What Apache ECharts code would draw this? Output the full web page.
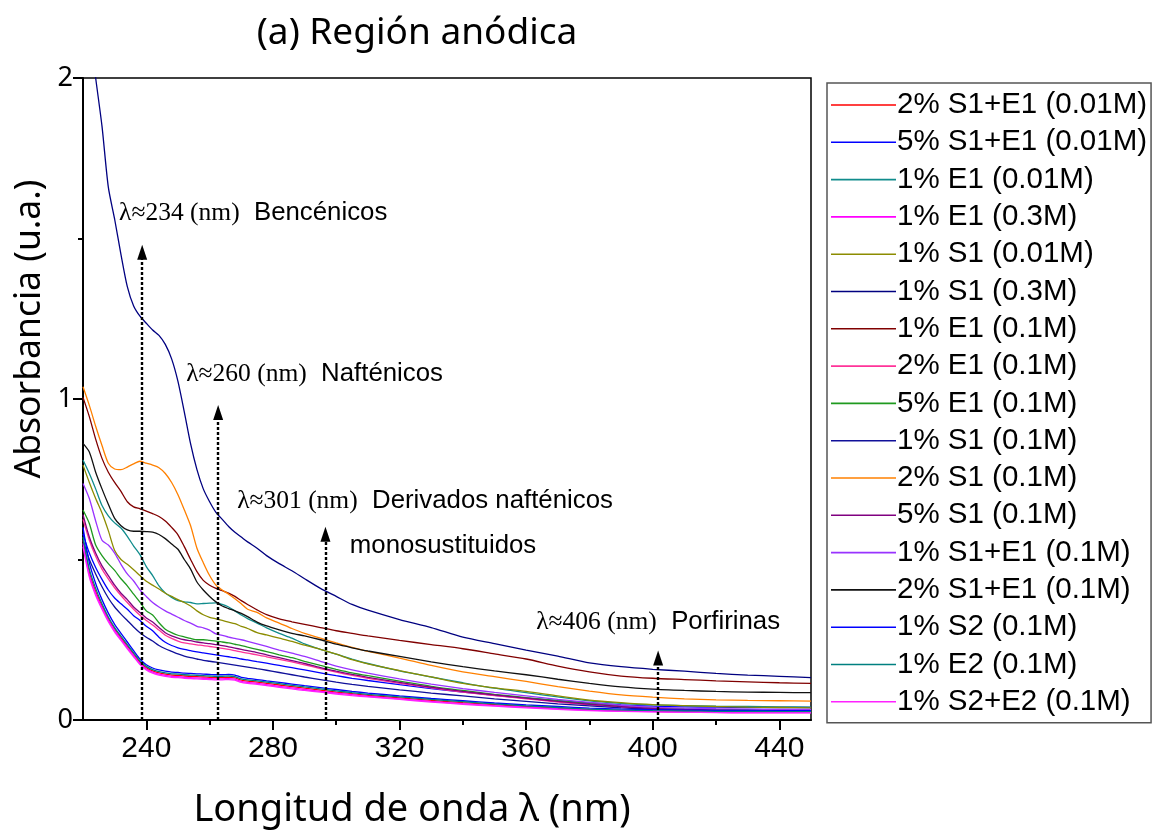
<!DOCTYPE html>
<html>
<head>
<meta charset="utf-8">
<script src="https://cdn.jsdelivr.net/npm/echarts@6/dist/echarts.min.js"></script>
<style>
  html, body { margin: 0; padding: 0; background: #ffffff; }
  #chart { width: 1155px; height: 833px; }
</style>
</head>
<body>
<div id="chart"></div>
<script>
// Wavelength grid (nm) shared by every spectrum
const wavelength = [
  220, 222, 224, 226, 228, 230, 232, 234, 236, 238,
  240, 242, 244, 246, 248, 250, 252, 254, 256, 258,
  260, 262, 264, 266, 268, 270, 272, 275, 278, 282,
  286, 290, 295, 300, 305, 310, 320, 330, 340, 350,
  360, 370, 380, 390, 400, 410, 420, 430, 440, 450
];

// Absorbance (u.a.) of each sample, one value per wavelength
const s1e1_2pct_001M = [
  0.56, 0.46, 0.40, 0.355, 0.315, 0.283, 0.256, 0.23, 0.205, 0.18,
  0.163, 0.153, 0.147, 0.143, 0.14, 0.139, 0.137, 0.136, 0.135, 0.134,
  0.133, 0.132, 0.132, 0.133, 0.131, 0.124, 0.121, 0.118, 0.114, 0.109,
  0.104, 0.099, 0.093, 0.087, 0.082, 0.077, 0.069, 0.061, 0.054, 0.048,
  0.042, 0.037, 0.032, 0.029, 0.027, 0.026, 0.025, 0.024, 0.024, 0.024
];
const s1e1_5pct_001M = [
  0.58, 0.52, 0.475, 0.438, 0.405, 0.38, 0.362, 0.345, 0.325, 0.31,
  0.292, 0.278, 0.258, 0.242, 0.232, 0.225, 0.22, 0.216, 0.212, 0.209,
  0.206, 0.203, 0.2, 0.197, 0.194, 0.19, 0.187, 0.182, 0.177, 0.17,
  0.163, 0.156, 0.147, 0.138, 0.13, 0.123, 0.11, 0.098, 0.087, 0.077,
  0.068, 0.06, 0.053, 0.047, 0.043, 0.041, 0.04, 0.039, 0.039, 0.039
];
const e1_1pct_001M = [
  0.81, 0.768, 0.72, 0.668, 0.636, 0.614, 0.598, 0.572, 0.542, 0.515,
  0.478, 0.45, 0.418, 0.396, 0.382, 0.372, 0.368, 0.366, 0.362, 0.363,
  0.364, 0.365, 0.36, 0.352, 0.34, 0.327, 0.316, 0.302, 0.287, 0.27,
  0.255, 0.237, 0.22, 0.205, 0.19, 0.176, 0.153, 0.134, 0.116, 0.099,
  0.085, 0.072, 0.06, 0.052, 0.047, 0.045, 0.043, 0.042, 0.041, 0.04
];
const e1_1pct_03M = [
  0.55, 0.452, 0.394, 0.35, 0.311, 0.279, 0.252, 0.226, 0.201, 0.176,
  0.159, 0.149, 0.143, 0.139, 0.136, 0.135, 0.133, 0.132, 0.131, 0.13,
  0.129, 0.128, 0.128, 0.129, 0.127, 0.12, 0.117, 0.114, 0.11, 0.105,
  0.1, 0.095, 0.089, 0.084, 0.079, 0.074, 0.066, 0.058, 0.051, 0.045,
  0.04, 0.035, 0.031, 0.028, 0.026, 0.025, 0.024, 0.023, 0.023, 0.023
];
const s1_1pct_001M = [
  0.794, 0.74, 0.69, 0.645, 0.59, 0.528, 0.5, 0.485, 0.468, 0.45,
  0.432, 0.42, 0.408, 0.395, 0.385, 0.375, 0.366, 0.355, 0.34, 0.328,
  0.32, 0.315, 0.31, 0.305, 0.3, 0.292, 0.285, 0.272, 0.265, 0.255,
  0.245, 0.233, 0.22, 0.205, 0.188, 0.175, 0.154, 0.134, 0.114, 0.1,
  0.089, 0.075, 0.062, 0.054, 0.048, 0.045, 0.042, 0.04, 0.039, 0.038
];
const s1_1pct_03M = [
  2.32, 2.16, 2.00, 1.85, 1.66, 1.56, 1.45, 1.35, 1.29, 1.258,
  1.236, 1.215, 1.198, 1.17, 1.125, 1.055, 0.96, 0.86, 0.78, 0.72,
  0.68, 0.647, 0.625, 0.603, 0.585, 0.57, 0.555, 0.535, 0.512, 0.487,
  0.465, 0.44, 0.41, 0.385, 0.36, 0.342, 0.313, 0.288, 0.258, 0.238,
  0.218, 0.199, 0.178, 0.166, 0.158, 0.152, 0.145, 0.14, 0.136, 0.132
];
const e1_1pct_01M = [
  1.005, 0.945, 0.875, 0.815, 0.772, 0.74, 0.712, 0.68, 0.664, 0.658,
  0.651, 0.643, 0.634, 0.62, 0.6, 0.577, 0.54, 0.5, 0.462, 0.435,
  0.42, 0.41, 0.403, 0.395, 0.385, 0.372, 0.36, 0.343, 0.328, 0.315,
  0.306, 0.298, 0.288, 0.278, 0.27, 0.262, 0.248, 0.235, 0.222, 0.206,
  0.19, 0.168, 0.15, 0.137, 0.13, 0.126, 0.122, 0.119, 0.116, 0.114
];
const e1_2pct_01M = [
  0.625, 0.56, 0.51, 0.47, 0.44, 0.412, 0.388, 0.366, 0.345, 0.326,
  0.31, 0.296, 0.28, 0.264, 0.254, 0.246, 0.24, 0.237, 0.234, 0.232,
  0.229, 0.226, 0.223, 0.22, 0.216, 0.212, 0.208, 0.203, 0.197, 0.189,
  0.181, 0.172, 0.16, 0.149, 0.139, 0.13, 0.114, 0.1, 0.087, 0.076,
  0.066, 0.056, 0.047, 0.04, 0.034, 0.031, 0.029, 0.028, 0.027, 0.027
];
const e1_5pct_01M = [
  0.654, 0.612, 0.545, 0.512, 0.487, 0.466, 0.44, 0.418, 0.392, 0.367,
  0.34, 0.327, 0.303, 0.283, 0.272, 0.264, 0.259, 0.254, 0.25, 0.25,
  0.248, 0.246, 0.243, 0.24, 0.236, 0.232, 0.227, 0.22, 0.213, 0.203,
  0.194, 0.183, 0.17, 0.158, 0.147, 0.138, 0.121, 0.105, 0.092, 0.08,
  0.07, 0.06, 0.052, 0.045, 0.038, 0.035, 0.033, 0.032, 0.031, 0.03
];
const s1_1pct_01M = [
  0.56, 0.5, 0.455, 0.415, 0.38, 0.352, 0.33, 0.31, 0.29, 0.272,
  0.258, 0.246, 0.232, 0.222, 0.214, 0.206, 0.199, 0.194, 0.19, 0.186,
  0.183, 0.18, 0.177, 0.174, 0.171, 0.168, 0.165, 0.16, 0.155, 0.148,
  0.141, 0.134, 0.126, 0.118, 0.111, 0.105, 0.094, 0.084, 0.075, 0.066,
  0.058, 0.05, 0.044, 0.038, 0.034, 0.031, 0.029, 0.028, 0.027, 0.027
];
const s1_2pct_01M = [
  1.038, 0.98, 0.915, 0.855, 0.8, 0.782, 0.78, 0.788, 0.798, 0.806,
  0.8, 0.794, 0.786, 0.768, 0.74, 0.702, 0.655, 0.605, 0.535, 0.49,
  0.45, 0.42, 0.405, 0.392, 0.378, 0.362, 0.345, 0.335, 0.318, 0.302,
  0.285, 0.27, 0.255, 0.24, 0.226, 0.214, 0.193, 0.17, 0.15, 0.135,
  0.12, 0.104, 0.09, 0.078, 0.071, 0.066, 0.063, 0.061, 0.06, 0.059
];
const s1_5pct_01M = [
  0.64, 0.57, 0.52, 0.48, 0.45, 0.42, 0.395, 0.375, 0.352, 0.335,
  0.318, 0.305, 0.288, 0.272, 0.262, 0.255, 0.25, 0.247, 0.243, 0.24,
  0.238, 0.235, 0.232, 0.228, 0.224, 0.22, 0.216, 0.21, 0.203, 0.194,
  0.185, 0.176, 0.163, 0.152, 0.142, 0.133, 0.117, 0.102, 0.089, 0.078,
  0.068, 0.058, 0.049, 0.042, 0.036, 0.033, 0.031, 0.03, 0.029, 0.029
];
const s1e1_1pct_01M = [
  0.737, 0.69, 0.62, 0.56, 0.545, 0.52, 0.485, 0.455, 0.433, 0.405,
  0.385, 0.366, 0.352, 0.34, 0.33, 0.32, 0.31, 0.302, 0.292, 0.287,
  0.28, 0.268, 0.264, 0.258, 0.254, 0.25, 0.245, 0.237, 0.229, 0.218,
  0.208, 0.198, 0.183, 0.168, 0.156, 0.146, 0.128, 0.112, 0.098, 0.086,
  0.075, 0.064, 0.055, 0.046, 0.04, 0.037, 0.035, 0.034, 0.033, 0.033
];
const s1e1_2pct_01M = [
  0.862, 0.835, 0.772, 0.72, 0.672, 0.628, 0.605, 0.592, 0.588, 0.588,
  0.587, 0.585, 0.578, 0.565, 0.548, 0.532, 0.5, 0.47, 0.43, 0.405,
  0.385, 0.368, 0.355, 0.347, 0.34, 0.332, 0.322, 0.305, 0.293, 0.281,
  0.27, 0.262, 0.25, 0.236, 0.225, 0.215, 0.198, 0.181, 0.166, 0.153,
  0.141, 0.127, 0.114, 0.103, 0.096, 0.092, 0.089, 0.087, 0.086, 0.085
];
const s2_1pct_01M = [
  0.60, 0.49, 0.425, 0.375, 0.333, 0.298, 0.27, 0.243, 0.216, 0.19,
  0.172, 0.162, 0.156, 0.152, 0.149, 0.148, 0.146, 0.145, 0.144, 0.143,
  0.142, 0.141, 0.141, 0.142, 0.14, 0.133, 0.13, 0.126, 0.122, 0.117,
  0.112, 0.107, 0.101, 0.095, 0.089, 0.084, 0.075, 0.067, 0.06, 0.053,
  0.047, 0.042, 0.037, 0.034, 0.032, 0.031, 0.03, 0.03, 0.029, 0.029
];
const e2_1pct_01M = [
  0.57, 0.47, 0.41, 0.362, 0.321, 0.288, 0.261, 0.235, 0.209, 0.184,
  0.167, 0.157, 0.151, 0.147, 0.144, 0.143, 0.141, 0.14, 0.139, 0.138,
  0.137, 0.136, 0.136, 0.137, 0.135, 0.128, 0.125, 0.122, 0.118, 0.113,
  0.108, 0.103, 0.097, 0.091, 0.085, 0.08, 0.072, 0.064, 0.057, 0.05,
  0.044, 0.039, 0.034, 0.031, 0.029, 0.028, 0.027, 0.027, 0.026, 0.026
];
const s2e2_1pct_01M = [
  0.54, 0.445, 0.388, 0.345, 0.306, 0.274, 0.248, 0.222, 0.197, 0.173,
  0.156, 0.146, 0.14, 0.136, 0.133, 0.132, 0.13, 0.129, 0.128, 0.127,
  0.126, 0.125, 0.125, 0.126, 0.124, 0.117, 0.114, 0.111, 0.107, 0.102,
  0.097, 0.092, 0.087, 0.081, 0.076, 0.072, 0.064, 0.056, 0.049, 0.043,
  0.038, 0.033, 0.029, 0.027, 0.025, 0.024, 0.023, 0.022, 0.022, 0.022
];

// Legend names, in legend order, with their values and line colours
const seriesNames = [
  '2% S1+E1 (0.01M)', '5% S1+E1 (0.01M)', '1% E1 (0.01M)', '1% E1 (0.3M)',
  '1% S1 (0.01M)', '1% S1 (0.3M)', '1% E1 (0.1M)', '2% E1 (0.1M)',
  '5% E1 (0.1M)', '1% S1 (0.1M)', '2% S1 (0.1M)', '5% S1 (0.1M)',
  '1% S1+E1 (0.1M)', '2% S1+E1 (0.1M)', '1% S2 (0.1M)', '1% E2 (0.1M)',
  '1% S2+E2 (0.1M)'
];
const seriesValues = [
  s1e1_2pct_001M, s1e1_5pct_001M, e1_1pct_001M, e1_1pct_03M,
  s1_1pct_001M, s1_1pct_03M, e1_1pct_01M, e1_2pct_01M,
  e1_5pct_01M, s1_1pct_01M, s1_2pct_01M, s1_5pct_01M,
  s1e1_1pct_01M, s1e1_2pct_01M, s2_1pct_01M, e2_1pct_01M,
  s2e2_1pct_01M
];
const seriesColors = [
  '#ff0000', '#0000ff', '#108c8c', '#ff00ff',
  '#8c8c00', '#000080', '#800000', '#ff3399',
  '#1f9a1f', '#10109a', '#ff8000', '#800080',
  '#9933ff', '#111111', '#0000ff', '#008080',
  '#ff22ff'
];

// Axis ticks
const xMajorTicks = [240, 280, 320, 360, 400, 440];
const xMinorTicks = [260, 300, 340, 380, 420];

// Band annotations: arrow wavelength, arrow top, text anchor and text
const arrowWavelength = [238.7, 262.7, 296.6, 401.7];
const arrowTop = [1.457, 0.958, 0.579, 0.193];
const bandLabelAnchor = [[231.4, 1.579], [252.6, 1.078], [268.7, 0.682], [363.2, 0.305]];
const bandLambda = ['λ≈234 (nm)', 'λ≈260 (nm)', 'λ≈301 (nm)', 'λ≈406 (nm)'];
const bandName = ['Bencénicos', 'Nafténicos', 'Derivados nafténicos', 'Porfirinas'];
const secondLineAnchor = [304.3, 0.542];
const secondLineText = 'monosustituidos';

const chart = echarts.init(document.getElementById('chart'), null, { renderer: 'canvas' });

const lineSeries = seriesNames.map((name, i) => ({
  name: name,
  type: 'line',
  data: wavelength.map((w, k) => [w, seriesValues[i][k]]),
  symbol: 'none',
  smooth: 0.25,
  lineStyle: { width: 1.3, color: seriesColors[i] },
  itemStyle: { color: seriesColors[i] },
  clip: true,
  z: 2
}));

const richStyles = {
  l: { fontFamily: 'Liberation Serif', fontSize: 25.5, color: '#000' },
  t: { fontFamily: 'Liberation Sans', fontSize: 25.8, color: '#000' }
};

// Arrows and band labels ride on the first spectrum
lineSeries[0].markLine = {
  silent: true,
  symbol: ['none', 'triangle'],
  symbolSize: [10, 15],
  lineStyle: { color: '#000', width: 2.4, type: [3, 2] },
  label: { show: false },
  animation: false,
  data: arrowWavelength.map((w, i) => [
    { coord: [w, 0] },
    { coord: [w, arrowTop[i]] }
  ])
};
lineSeries[0].markPoint = {
  silent: true,
  symbol: 'circle',
  symbolSize: 0,
  itemStyle: { color: 'rgba(0,0,0,0)' },
  animation: false,
  label: { show: true, position: 'right', distance: 0, rich: richStyles },
  data: bandLabelAnchor.map((c, i) => ({
    coord: c,
    label: { formatter: '{l|' + bandLambda[i] + '}{t|  ' + bandName[i] + '}' }
  })).concat([{
    coord: secondLineAnchor,
    label: { formatter: '{t|' + secondLineText + '}' }
  }])
};

const option = {
  animation: false,
  backgroundColor: '#ffffff',
  grid: {
    left: 83, right: 344, top: 78, bottom: 113,
    show: true, borderColor: '#000', borderWidth: 1.5,
    backgroundColor: 'transparent'
  },
  xAxis: [
    {
      type: 'value', min: 220, max: 450, position: 'bottom',
      axisLine: { show: true, onZero: false, lineStyle: { color: '#000', width: 2 } },
      axisTick: { show: true, customValues: xMajorTicks, length: 10, inside: false,
                  lineStyle: { color: '#000', width: 2 } },
      axisLabel: { show: true, customValues: xMajorTicks, margin: 14, color: '#000',
                   fontFamily: 'Liberation Sans Narrow, Liberation Sans, sans-serif', fontSize: 30 },
      splitLine: { show: false }
    },
    {
      type: 'value', min: 220, max: 450, position: 'bottom',
      axisLine: { show: false, onZero: false },
      axisTick: { show: true, customValues: xMinorTicks, length: 5, inside: false,
                  lineStyle: { color: '#000', width: 2 } },
      axisLabel: { show: false },
      splitLine: { show: false }
    }
  ],
  yAxis: {
    type: 'value', min: 0, max: 2, interval: 1,
    axisLine: { show: true, onZero: false, lineStyle: { color: '#000', width: 2 } },
    axisTick: { show: true, length: 10, lineStyle: { color: '#000', width: 2 } },
    minorTick: { show: true, splitNumber: 2, length: 5, lineStyle: { color: '#000', width: 2 } },
    axisLabel: { color: '#000', fontFamily: 'Noto Sans', fontSize: 27, margin: 10 },
    splitLine: { show: false }
  },
  legend: {
    data: seriesNames,
    orient: 'vertical',
    left: 827, top: 83,
    backgroundColor: '#fff',
    borderColor: '#555', borderWidth: 1.5,
    padding: [7, 4, 6, 4],
    icon: 'rect',
    itemWidth: 65, itemHeight: 1.6,
    itemGap: 7.3,
    selectedMode: false,
    textStyle: { fontFamily: 'Liberation Sans', fontSize: 29.5, color: '#000', lineHeight: 30,
                 padding: [0, 0, 0, -4] }
  },
  graphic: [
    {
      type: 'text', x: 417, y: 33,
      style: { text: '(a) Región anódica', fill: '#000', font: '37px "Noto Sans"',
               textAlign: 'center', textVerticalAlign: 'middle' }
    },
    {
      type: 'text', x: 412, y: 810,
      style: { text: 'Longitud de onda λ (nm)', fill: '#000', font: '38px "Noto Sans"',
               textAlign: 'center', textVerticalAlign: 'middle' }
    },
    {
      type: 'text', x: 30, y: 329, rotation: Math.PI / 2,
      style: { text: 'Absorbancia (u.a.)', fill: '#000', font: '35.5px "Noto Sans"',
               textAlign: 'center', textVerticalAlign: 'middle' }
    }
  ],
  series: lineSeries
};

chart.setOption(option);
</script>
</body>
</html>
